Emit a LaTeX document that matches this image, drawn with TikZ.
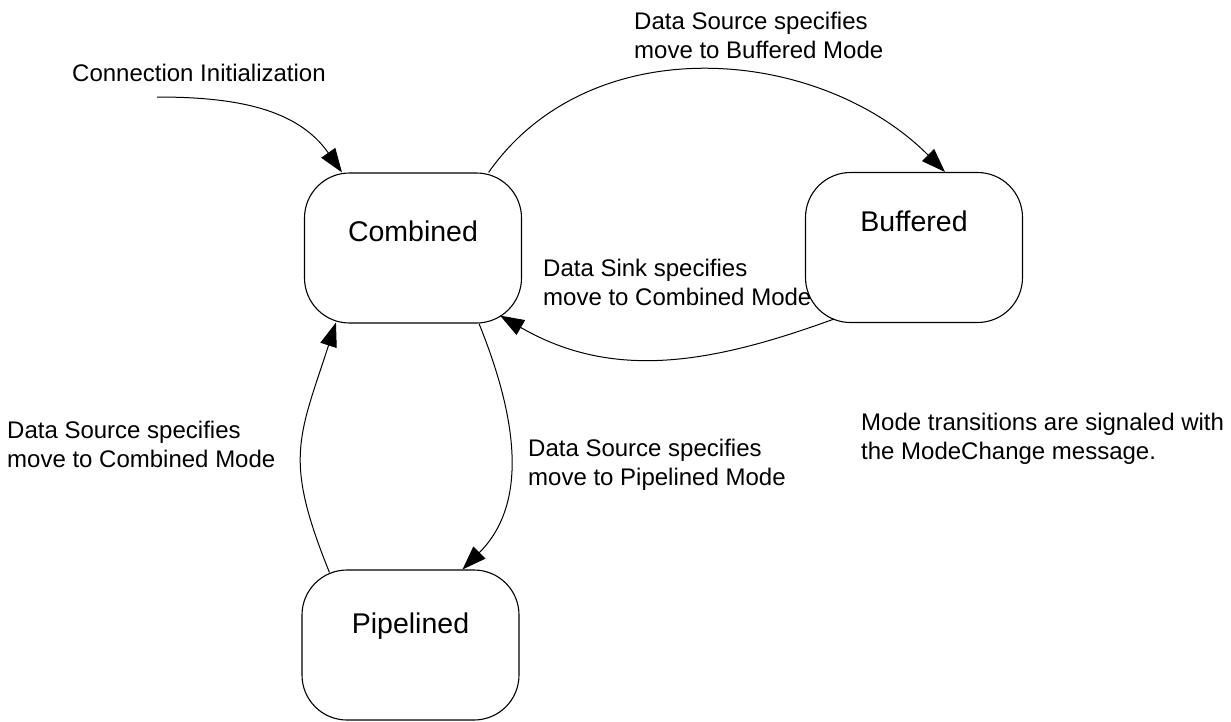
\documentclass[tikz,border=0pt]{standalone}
\usepackage{fontspec}
\setmainfont{Liberation Sans}
\usepackage{tikz}
\usetikzlibrary{arrows.meta}

\begin{document}
\begin{tikzpicture}[x=1pt,y=-1pt,>={Triangle[length=24pt,width=17pt]},
  modebox/.style={draw,line width=1.1pt,rounded corners=45pt,minimum width=217pt,minimum height=150pt,font=\fontsize{28.5}{34}\selectfont,text height=20pt},
  note/.style={anchor=west,inner sep=0pt,align=left,font=\fontsize{24}{29}\selectfont},
  trans/.style={->,line width=1pt}]
  \useasboundingbox (0,0) rectangle (1231,721);
  \node[modebox,text depth=34pt] (comb) at (413,248) {Combined};
  \node[modebox,text depth=53pt] (buff) at (914,247.5) {Buffered};
  \node[modebox,text depth=44pt] (pipe) at (410.5,645) {Pipelined};
  \coordinate (init) at (157,97);
  \node[note] (initlbl) at (72,73) {Connection Initialization};
  \node[note] (tobuff) at (634,35) {Data Source specifies\\move to Buffered Mode};
  \node[note] (tocomb) at (543,282) {Data Sink specifies\\move to Combined Mode};
  \node[note] (backcomb) at (7,444) {Data Source specifies\\move to Combined Mode};
  \node[note] (topipe) at (528,465) {Data Source specifies\\move to Pipelined Mode};
  \node[note] (remark) at (861,439) {Mode transitions are signaled with\\the ModeChange message.};
  \draw[trans] (init) to[out=0,in=125] ([xshift=-71pt]comb.north);
  \draw[trans] (comb.45) to[out=55,in=135] ([xshift=31pt]buff.north);
  \draw[trans] ([shift={(29pt,4pt)}]buff.south west) to[out=200,in=330] ([shift={(-22pt,8pt)}]comb.south east);
  \draw[trans] ([xshift=66pt]comb.south) to[out=292,in=45] ([xshift=52pt]pipe.north);
  \draw[trans] ([shift={(28pt,-3pt)}]pipe.north west) to[out=112,in=252,looseness=1.25] ([shift={(32pt,1pt)}]comb.south west);
\end{tikzpicture}
\end{document}
